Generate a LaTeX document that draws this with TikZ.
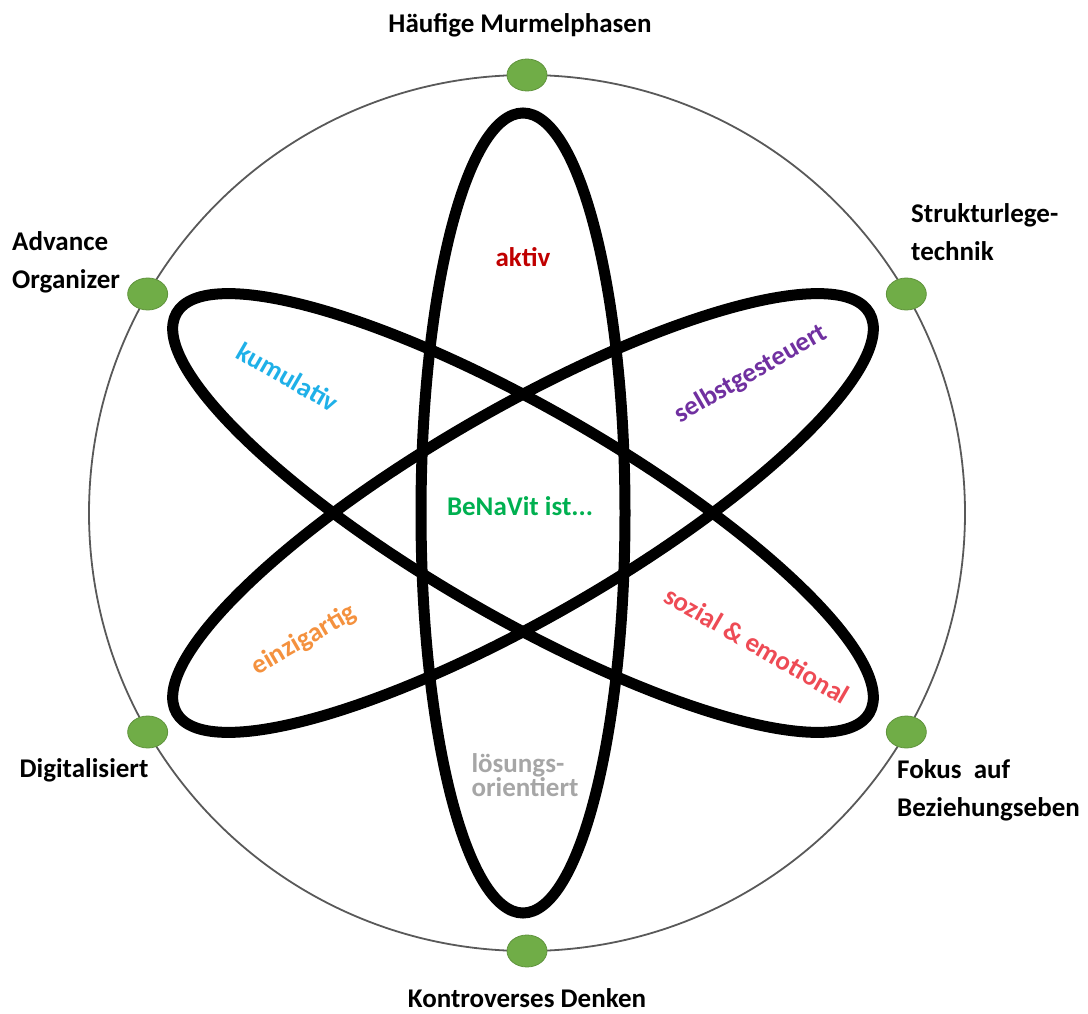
\documentclass[tikz,border=0pt]{standalone}
\usepackage{fontspec}
\setmainfont{Carlito}
\usetikzlibrary{shapes.geometric}
\definecolor{dotgreen}{HTML}{70AD47}
\definecolor{aktivred}{HTML}{C00000}
\definecolor{kumblue}{HTML}{1FB0E8}
\definecolor{selbpurple}{HTML}{7030A0}
\definecolor{benagreen}{HTML}{00B050}
\definecolor{einzorange}{HTML}{F4913E}
\definecolor{sozred}{HTML}{EE4B55}
\definecolor{loesgray}{HTML}{A6A6A6}
\definecolor{ringgray}{HTML}{595959}
\begin{document}
\begin{tikzpicture}[x=1pt,y=-1pt,
  lbl/.style={font=\bfseries\fontsize{27}{38}\selectfont, text=black, inner sep=0pt},
  dot/.style={ellipse, fill=dotgreen, draw=dotgreen!85!black, line width=0.8pt, minimum width=40pt, minimum height=32pt, inner sep=0pt},
  orbit/.style={draw=black, line width=11pt},
  ring/.style={draw=ringgray, line width=1.8pt},
  word/.style={font=\bfseries\fontsize{27}{23}\selectfont, inner sep=0pt}]
\useasboundingbox (0,0) rectangle (1088,1014);
\coordinate (c) at (527,513);
\coordinate (e) at (523,513);
% outer ring
\draw[ring] (c) circle [radius=438pt];
% orbits
\draw[orbit] (e) ellipse [x radius=102pt, y radius=400pt];
\draw[orbit, rotate around={60:(e)}] (e) ellipse [x radius=104pt, y radius=400pt];
\draw[orbit, rotate around={-60:(e)}] (e) ellipse [x radius=104pt, y radius=400pt];
% dots on ring
\path (c) ++(90:438pt) node[dot] (dtop) {};
\path (c) ++(150:438pt) node[dot] (dul) {};
\path (c) ++(30:438pt) node[dot] (dur) {};
\path (c) ++(210:438pt) node[dot] (dll) {};
\path (c) ++(330:438pt) node[dot] (dlr) {};
\path (c) ++(270:438pt) node[dot] (dbot) {};
% outer labels
\node[lbl] (ttop) at (520,25) {Häufige Murmelphasen};
\node[lbl, align=left, anchor=west] (tul) at (12,262) {Advance\\Organizer};
\node[lbl, align=left, anchor=west] (tur) at (911,232) {Strukturlege-\\technik};
\node[lbl] (tll) at (84,770) {Digitalisiert};
\node[lbl, align=left, anchor=west] (tlr) at (897,790) {Fokus\ \ auf\\Beziehungseben};
\node[lbl] (tbot) at (527,998) {Kontroverses Denken};
% inner words
\node[word, text=aktivred] (w1) at (523,257) {aktiv};
\node[word, text=kumblue, rotate=-30] (w2) at (288,377) {kumulativ};
\node[word, text=selbpurple, rotate=30] (w3) at (751,374) {selbstgesteuert};
\node[word, text=benagreen] (w4) at (520,506) {BeNaVit ist...};
\node[word, text=einzorange, rotate=30] (w5) at (304,640) {einzigartig};
\node[word, text=sozred, rotate=-30] (w6) at (757,645) {sozial \& emotional};
\node[word, text=loesgray, align=left] (w7) at (525,775) {lösungs-\\orientiert};
\end{tikzpicture}
\end{document}
